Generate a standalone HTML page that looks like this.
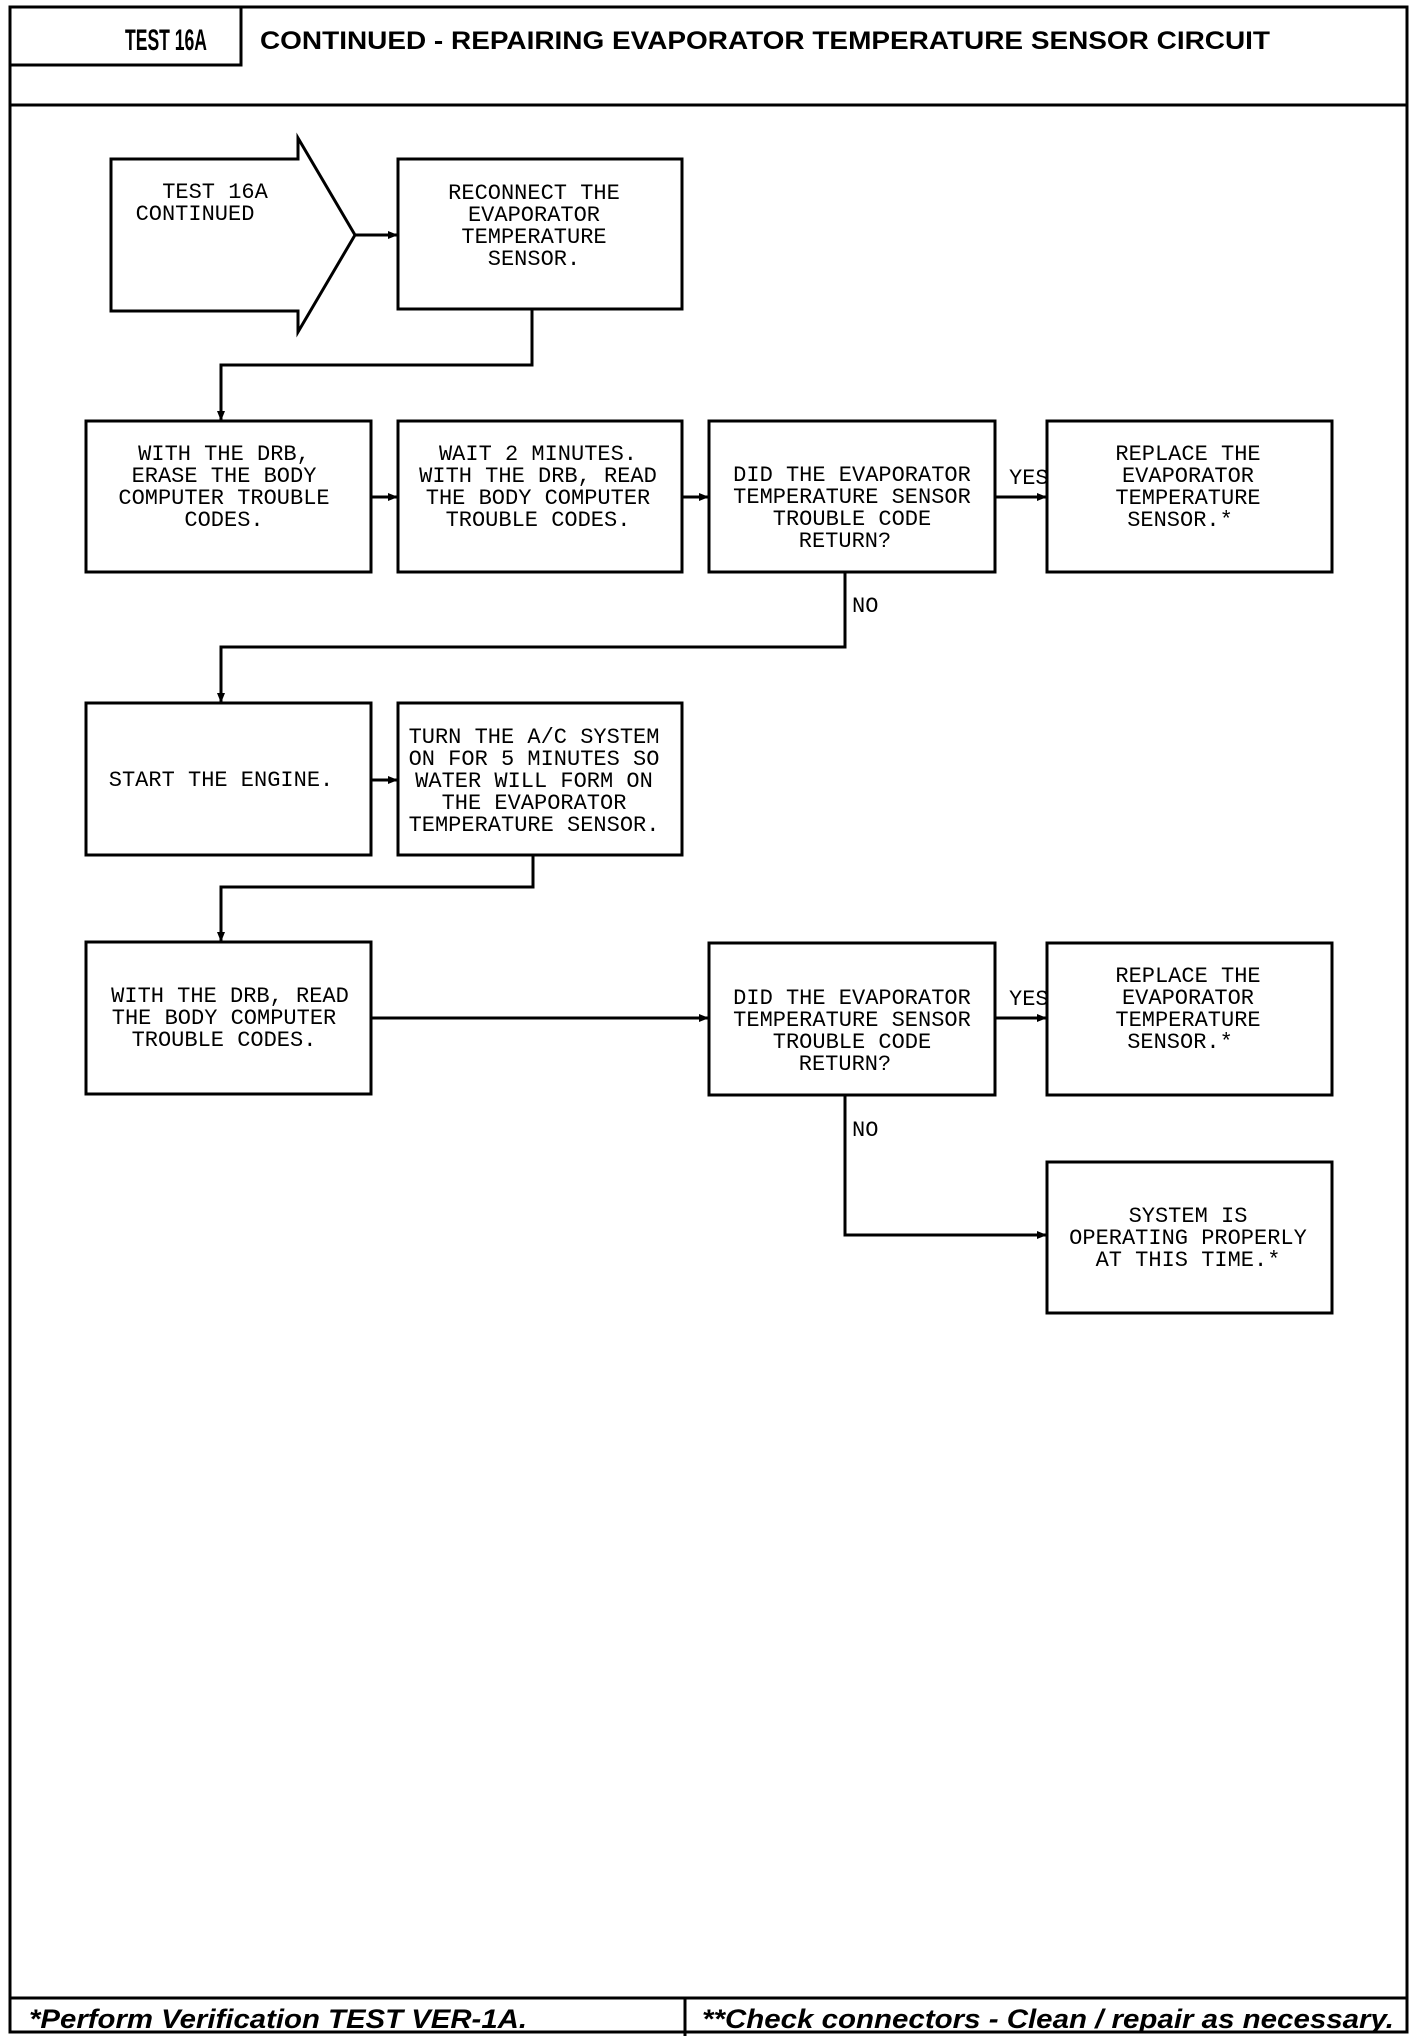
<!DOCTYPE html>
<html><head><meta charset="utf-8"><style>
html,body{margin:0;padding:0;background:#fff}
svg{display:block}
.t{font-family:"Liberation Mono",monospace;font-size:22px;fill:#000;text-anchor:middle}
.l{font-family:"Liberation Mono",monospace;font-size:22px;fill:#000}
</style></head><body>
<svg width="1424" height="2036" viewBox="0 0 1424 2036" xmlns="http://www.w3.org/2000/svg">
<defs><marker id="a" markerWidth="10" markerHeight="10" refX="9" refY="5" orient="auto" markerUnits="userSpaceOnUse"><path d="M0,1 L10,5 L0,9 z" fill="#000"/></marker></defs>
<g fill="none" stroke="#000" stroke-width="3">
<rect x="10" y="7" width="1397" height="2025"/>
<rect x="10" y="7" width="231" height="58"/>
<line x1="10" y1="105" x2="1407" y2="105"/>
<line x1="10" y1="1998" x2="1407" y2="1998"/>
<line x1="685" y1="1998" x2="685" y2="2036"/>
<path d="M111,159 H298 V138 L355,235 L298,332 V311 H111 Z"/>
<rect x="398" y="159" width="284" height="150"/>
<rect x="86" y="421" width="285" height="151"/>
<rect x="398" y="421" width="284" height="151"/>
<rect x="709" y="421" width="286" height="151"/>
<rect x="1047" y="421" width="285" height="151"/>
<rect x="86" y="703" width="285" height="152"/>
<rect x="398" y="703" width="284" height="152"/>
<rect x="86" y="942" width="285" height="152"/>
<rect x="709" y="943" width="286" height="152"/>
<rect x="1047" y="943" width="285" height="152"/>
<rect x="1047" y="1162" width="285" height="151"/>
</g>
<g fill="none" stroke="#000" stroke-width="3" marker-end="url(#a)">
<line x1="355" y1="235" x2="397" y2="235"/>
<polyline points="532,309 532,365 221,365 221,420"/>
<line x1="371" y1="497" x2="397" y2="497"/>
<line x1="682" y1="497" x2="708" y2="497"/>
<line x1="995" y1="497" x2="1046" y2="497"/>
<polyline points="845,572 845,647 221,647 221,702"/>
<line x1="371" y1="780" x2="397" y2="780"/>
<polyline points="533,855 533,887 221,887 221,941"/>
<line x1="371" y1="1018" x2="708" y2="1018"/>
<line x1="995" y1="1018" x2="1046" y2="1018"/>
<polyline points="845,1095 845,1235 1046,1235"/>
</g>
<text x="125" y="50" font-family="Liberation Sans,sans-serif" font-weight="bold" font-size="30" textLength="82" lengthAdjust="spacingAndGlyphs" x="48">TEST 16A</text>
<text x="48" y="50" font-family="Liberation Sans,sans-serif" font-weight="bold" font-size="30" textLength="156" lengthAdjust="spacingAndGlyphs"></text>
<text x="260" y="49" font-family="Liberation Sans,sans-serif" font-weight="bold" font-size="25" textLength="1010" lengthAdjust="spacingAndGlyphs">CONTINUED - REPAIRING EVAPORATOR TEMPERATURE SENSOR CIRCUIT</text>
<text x="29" y="2028" font-family="Liberation Sans,sans-serif" font-weight="bold" font-style="italic" font-size="27" textLength="498" lengthAdjust="spacingAndGlyphs">*Perform Verification TEST VER-1A.</text>
<text x="702" y="2028" font-family="Liberation Sans,sans-serif" font-weight="bold" font-style="italic" font-size="27" textLength="692" lengthAdjust="spacingAndGlyphs">**Check connectors - Clean / repair as necessary.</text>
<text class="t" x="215" y="198">TEST 16A</text>
<text class="t" x="195" y="220">CONTINUED</text>
<text class="t" x="534" y="199">RECONNECT THE</text>
<text class="t" x="534" y="221">EVAPORATOR</text>
<text class="t" x="534" y="243">TEMPERATURE</text>
<text class="t" x="534" y="265">SENSOR.</text>
<text class="t" x="224" y="460">WITH THE DRB,</text>
<text class="t" x="224" y="482">ERASE THE BODY</text>
<text class="t" x="224" y="504">COMPUTER TROUBLE</text>
<text class="t" x="224" y="526">CODES.</text>
<text class="t" x="538" y="460">WAIT 2 MINUTES.</text>
<text class="t" x="538" y="482">WITH THE DRB, READ</text>
<text class="t" x="538" y="504">THE BODY COMPUTER</text>
<text class="t" x="538" y="526">TROUBLE CODES.</text>
<text class="t" x="852" y="481">DID THE EVAPORATOR</text>
<text class="t" x="852" y="503">TEMPERATURE SENSOR</text>
<text class="t" x="852" y="525">TROUBLE CODE</text>
<text class="t" x="845" y="547">RETURN?</text>
<text class="t" x="1188" y="460">REPLACE THE</text>
<text class="t" x="1188" y="482">EVAPORATOR</text>
<text class="t" x="1188" y="504">TEMPERATURE</text>
<text class="t" x="1180" y="526">SENSOR.*</text>
<text class="l" x="1009" y="484">YES</text>
<text class="l" x="852" y="612">NO</text>
<text class="t" x="221" y="786">START THE ENGINE.</text>
<text class="t" x="534" y="743">TURN THE A/C SYSTEM</text>
<text class="t" x="534" y="765">ON FOR 5 MINUTES SO</text>
<text class="t" x="534" y="787">WATER WILL FORM ON</text>
<text class="t" x="534" y="809">THE EVAPORATOR</text>
<text class="t" x="534" y="831">TEMPERATURE SENSOR.</text>
<text class="t" x="230" y="1002">WITH THE DRB, READ</text>
<text class="t" x="224" y="1024">THE BODY COMPUTER</text>
<text class="t" x="224" y="1046">TROUBLE CODES.</text>
<text class="t" x="852" y="1004">DID THE EVAPORATOR</text>
<text class="t" x="852" y="1026">TEMPERATURE SENSOR</text>
<text class="t" x="852" y="1048">TROUBLE CODE</text>
<text class="t" x="845" y="1070">RETURN?</text>
<text class="t" x="1188" y="982">REPLACE THE</text>
<text class="t" x="1188" y="1004">EVAPORATOR</text>
<text class="t" x="1188" y="1026">TEMPERATURE</text>
<text class="t" x="1180" y="1048">SENSOR.*</text>
<text class="l" x="1009" y="1005">YES</text>
<text class="l" x="852" y="1136">NO</text>
<text class="t" x="1188" y="1222">SYSTEM IS</text>
<text class="t" x="1188" y="1244">OPERATING PROPERLY</text>
<text class="t" x="1188" y="1266">AT THIS TIME.*</text>
</svg>
</body></html>
